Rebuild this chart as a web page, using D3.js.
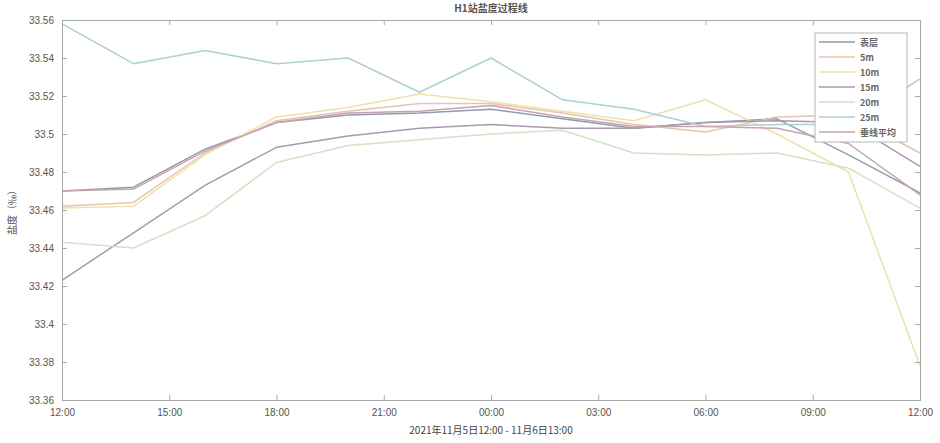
<!DOCTYPE html>
<html><head><meta charset="utf-8">
<script src="https://cdn.jsdelivr.net/npm/d3@7"></script>
<style>body{margin:0;background:#fff}svg{display:block}text{font-family:"Noto Sans CJK SC","DejaVu Sans",sans-serif}</style>
</head><body><svg id="c" width="940" height="443"></svg>
<script>
// data
const times = ["2021-11-05 12:00","2021-11-05 14:00","2021-11-05 16:00","2021-11-05 18:00","2021-11-05 20:00","2021-11-05 22:00","2021-11-06 00:00","2021-11-06 02:00","2021-11-06 04:00","2021-11-06 06:00","2021-11-06 08:00","2021-11-06 10:00","2021-11-06 12:00"];
const seriesNames = ["表层","5m","10m","15m","20m","25m","垂线平均"];
const sBiao  = [33.470,33.472,33.492,33.506,33.510,33.511,33.513,33.508,33.503,33.506,33.508,33.489,33.469];
const s5m    = [33.462,33.464,33.490,33.507,33.512,33.516,33.516,33.511,33.505,33.501,33.509,33.510,33.490];
const s10m   = [33.461,33.462,33.489,33.509,33.514,33.521,33.517,33.512,33.507,33.518,33.500,33.480,33.378];
const s15m   = [33.423,33.448,33.473,33.493,33.499,33.503,33.505,33.503,33.503,33.506,33.507,33.506,33.483];
const s20m   = [33.443,33.440,33.457,33.485,33.494,33.497,33.500,33.502,33.490,33.489,33.490,33.482,33.461];
const s25m   = [33.558,33.537,33.544,33.537,33.540,33.522,33.540,33.518,33.513,33.504,33.505,33.505,33.529];
const sAvg   = [33.470,33.471,33.491,33.506,33.511,33.512,33.515,33.509,33.504,33.504,33.503,33.495,33.468];
const yTicks = [33.36,33.38,33.4,33.42,33.44,33.46,33.48,33.5,33.52,33.54,33.56];
const xTickLabels = ["12:00","15:00","18:00","21:00","00:00","03:00","06:00","09:00","12:00"];
const colors = ["#8d9cb0","#e6c4ae","#eee2aa","#a899ad","#d2e2c4","#aecfd3","#c8a3ad"];
const titleText = "H1站盐度过程线";
const yLabel = "盐度（‰）";
const xLabel = "2021年11月5日12:00 - 11月6日13:00";

const parse = d3.timeParse("%Y-%m-%d %H:%M");
const T = times.map(parse);
const allSeries = [sBiao,s5m,s10m,s15m,s20m,s25m,sAvg];

const L=62,R=920,Tp=20,B=400;
const svg=d3.select("#c");
const x=d3.scaleTime().domain([T[0],T[T.length-1]]).range([L,R]);
const y=d3.scaleLinear().domain([33.36,33.56]).range([B,Tp]);
const xTickDates = d3.timeHour.every(3).range(T[0], d3.timeMinute.offset(T[T.length-1],1));

const axCol="#a8a8a8", txtCol="#555";

// lines
const line=d3.line().x((d,i)=>x(T[i])).y(d=>y(d));
allSeries.forEach((s,k)=>{
  svg.append("path").datum(s).attr("d",line).attr("fill","none")
    .attr("stroke",colors[k]).attr("stroke-width",1.5).attr("stroke-linejoin","round");
});

// axes
const yl=svg.append("g").attr("transform",`translate(${L},0)`)
  .call(d3.axisLeft(y).tickValues(yTicks).tickSize(-5).tickPadding(8).tickFormat(d=>+d.toFixed(2)+""));
const yr=svg.append("g").attr("transform",`translate(${R},0)`)
  .call(d3.axisRight(y).tickValues(yTicks).tickSize(-5).tickFormat(""));
const xb=svg.append("g").attr("transform",`translate(0,${B})`)
  .call(d3.axisBottom(x).tickValues(xTickDates).tickSize(-5).tickPadding(9).tickFormat((d,i)=>xTickLabels[i]));
const xt=svg.append("g").attr("transform",`translate(0,${Tp})`)
  .call(d3.axisTop(x).tickValues(xTickDates).tickSize(-5).tickFormat(""));
[yl,yr,xb,xt].forEach(g=>{
  g.selectAll("path,line").attr("stroke",axCol);
  g.selectAll("text").attr("fill",txtCol).style("font-size","10px").style("font-family","'Liberation Sans',sans-serif");
});

// title / labels
svg.append("text").attr("x",(L+R)/2).attr("y",12).attr("text-anchor","middle")
  .attr("fill","#555").style("font-size","10px").style("font-weight","bold").text(titleText);
svg.append("text").attr("transform",`translate(16,${(Tp+B)/2}) rotate(-90)`).attr("text-anchor","middle")
  .attr("fill",txtCol).style("font-size","10px").text(yLabel);
svg.append("text").attr("x",(L+R)/2).attr("y",434).attr("text-anchor","middle")
  .attr("fill","#444").style("font-size","10px").text(xLabel);

// legend
const lg=svg.append("g").attr("transform","translate(815,33)");
lg.append("rect").attr("width",92).attr("height",109).attr("fill","#fff").attr("stroke","#b8b8b8").attr("stroke-width",1);
seriesNames.forEach((n,k)=>{
  const yy=9+k*15;
  lg.append("line").attr("x1",4).attr("x2",40).attr("y1",yy).attr("y2",yy).attr("stroke",colors[k]).attr("stroke-width",1.5);
  lg.append("text").attr("x",45).attr("y",yy+3.5).attr("fill","#666").style("font-size","9px").style("font-weight","bold").text(n);
});
</script></body></html>
